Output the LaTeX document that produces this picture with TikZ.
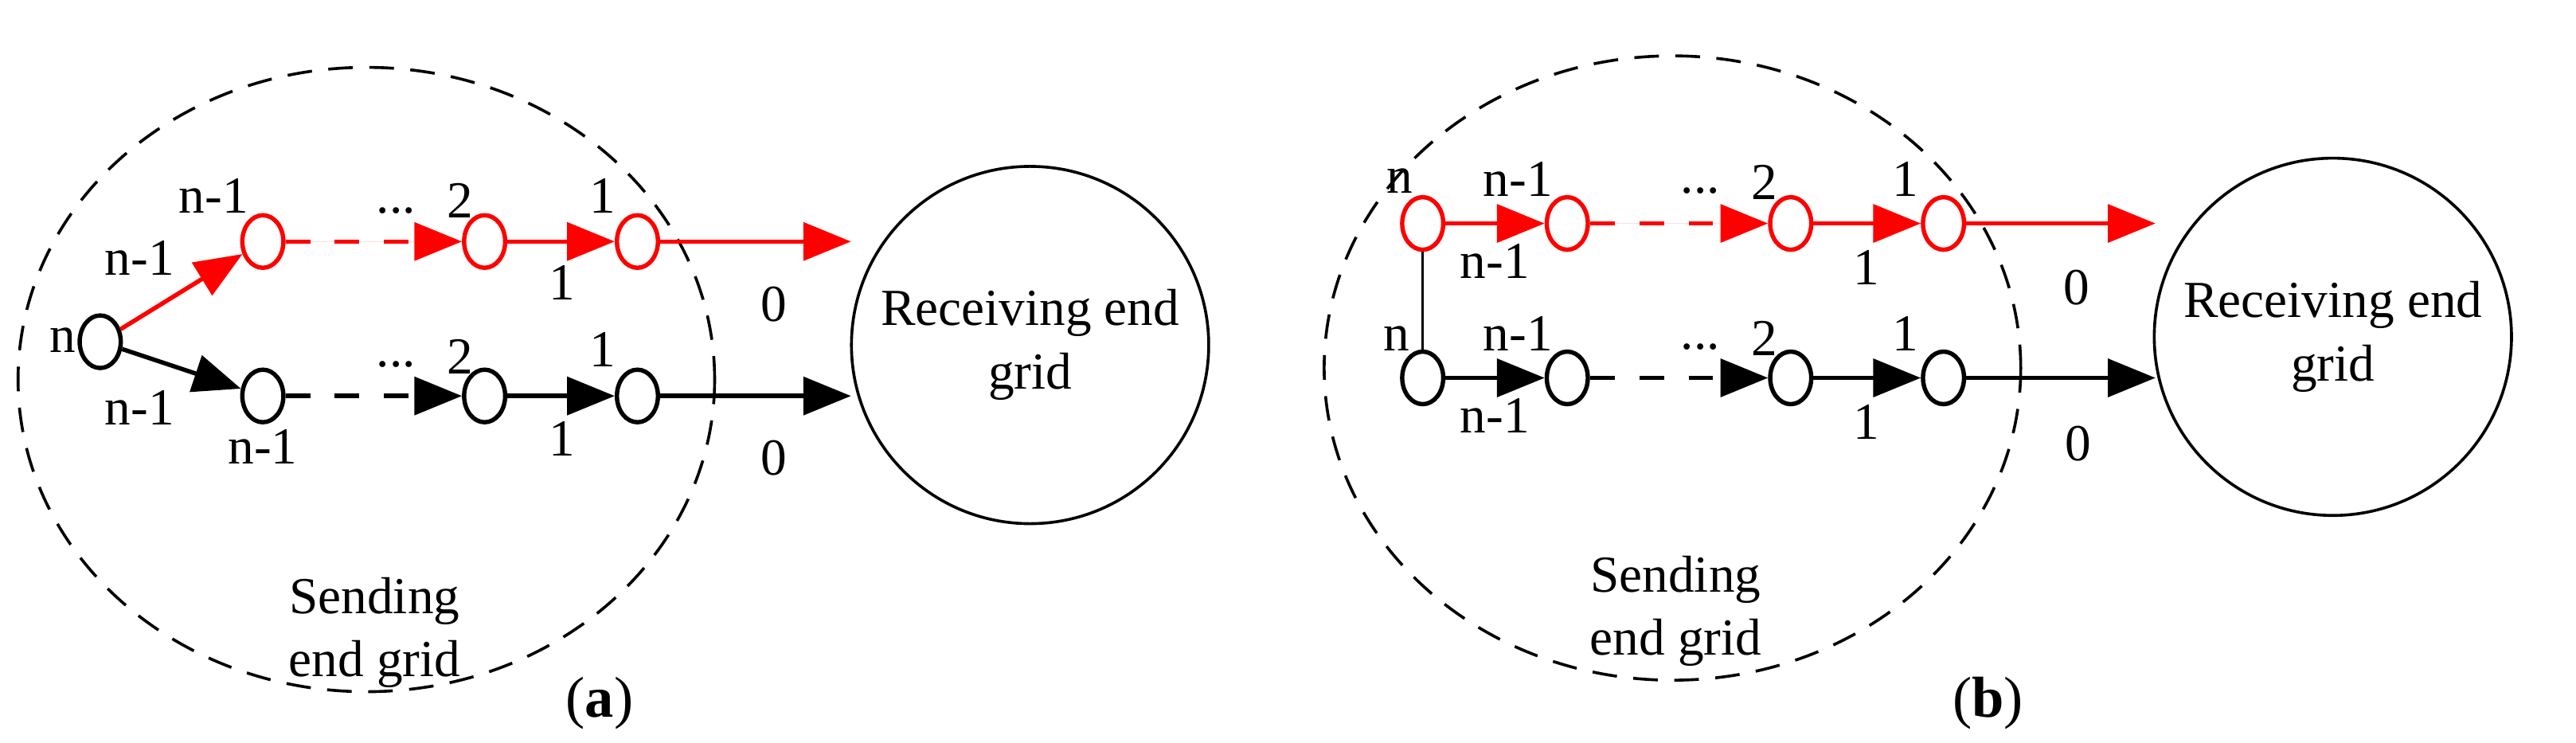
\documentclass[tikz,border=0pt]{standalone}
\usepackage{fontspec}
\setmainfont{Liberation Serif}
\usetikzlibrary{arrows.meta,shapes.geometric}
\begin{document}
\begin{tikzpicture}[x=0.02cm,y=-0.02cm,
  sn/.style={ellipse,draw,line width=1.5pt,minimum width=0.5cm,minimum height=0.64cm,inner sep=0pt},
  rn/.style={sn,draw=red},
  ar/.style={line width=1.5pt,-{Triangle[length=0.58cm,width=0.46cm]}},
  rar/.style={ar,draw=red,fill=red},
  dsh/.style={dash pattern=on 0.3cm off 0.3cm},
  big/.style={circle,draw,line width=1pt,minimum size=4.35cm,align=center,font=\fontsize{18}{22}\selectfont},
  lab/.style={font=\fontsize{18}{20}\selectfont,inner sep=0pt},
  grid/.style={draw,line width=1pt,dash pattern=on 0.3cm off 0.2cm}]
\useasboundingbox (0,0) rectangle (1568,452);
% ---------- (a) ----------
\draw[grid] (223,231) ellipse [x radius=212, y radius=190];
\node[big] (ra) at (627,210) {Receiving end\\grid};
\node[lab,align=center,font=\fontsize{18}{22}\selectfont] (sa) at (228,385) {Sending\\end grid};
\node[sn] (an) at (61,208) {};
\node[rn] (ar1) at (160,147) {};
\node[rn] (ar2) at (295,147) {};
\node[rn] (ar3) at (388,147) {};
\node[sn] (ab1) at (160,241) {};
\node[sn] (ab2) at (295,241) {};
\node[sn] (ab3) at (388,241) {};
\coordinate (aeR) at (518,147);
\coordinate (aeB) at (518,241);
\draw[rar] (an) -- (ar1);
\draw[rar,dsh] (ar1) -- (ar2);
\draw[rar] (ar2) -- (ar3);
\draw[rar] (ar3.east) -- (aeR);
\draw[ar] (an) -- (ab1);
\draw[ar,dsh] (ab1) -- (ab2);
\draw[ar] (ab2) -- (ab3);
\draw[ar] (ab3.east) -- (aeB);
\node[lab] (l1) at (130,119) {n-1};
\node[lab] (l2) at (85,157) {n-1};
\node[lab] (l3) at (241,128) {...};
\node[lab] (l4) at (280,122) {2};
\node[lab] (l5) at (367,119) {1};
\node[lab] (l6) at (342,172) {1};
\node[lab] (l7) at (471,185) {0};
\node[lab] (l8) at (38,207) {n};
\node[lab] (l9) at (241,222) {...};
\node[lab] (l10) at (280,217) {2};
\node[lab] (l11) at (367,213) {1};
\node[lab] (l12) at (85,248) {n-1};
\node[lab] (l13) at (160,272) {n-1};
\node[lab] (l14) at (342,267) {1};
\node[lab] (l15) at (471,279) {0};
\node[font=\fontsize{20}{24}\selectfont] (capa) at (365,428) {(\textbf{a})};
% ---------- (b) ----------
\draw[grid] (1018,224) ellipse [x radius=212, y radius=190];
\node[big] (rb) at (1420,205) {Receiving end\\grid};
\node[lab,align=center,font=\fontsize{18}{22}\selectfont] (sb) at (1020,372) {Sending\\end grid};
\node[rn] (br0) at (866,136) {};
\node[rn] (br1) at (954,136) {};
\node[rn] (br2) at (1090,136) {};
\node[rn] (br3) at (1183,136) {};
\node[sn] (bb0) at (866,230) {};
\node[sn] (bb1) at (954,230) {};
\node[sn] (bb2) at (1090,230) {};
\node[sn] (bb3) at (1183,230) {};
\coordinate (beR) at (1312,136);
\coordinate (beB) at (1312,230);
\draw[line width=0.8pt] (br0) -- (bb0);
\draw[rar] (br0) -- (br1);
\draw[rar,dsh] (br1) -- (br2);
\draw[rar] (br2) -- (br3);
\draw[rar] (br3.east) -- (beR);
\draw[ar] (bb0) -- (bb1);
\draw[ar,dsh] (bb1) -- (bb2);
\draw[ar] (bb2) -- (bb3);
\draw[ar] (bb3.east) -- (beB);
\node[lab] (m1) at (852,110) {n};
\node[lab] (m2) at (924,109) {n-1};
\node[lab] (m3) at (910,159) {n-1};
\node[lab] (m4) at (1035,116) {...};
\node[lab] (m5) at (1074,111) {2};
\node[lab] (m6) at (1160,109) {1};
\node[lab] (m7) at (1136,163) {1};
\node[lab] (m8) at (1264,175) {0};
\node[lab] (m9) at (850,206) {n};
\node[lab] (m10) at (924,203) {n-1};
\node[lab] (m11) at (1035,211) {...};
\node[lab] (m12) at (1074,206) {2};
\node[lab] (m13) at (1160,203) {1};
\node[lab] (m14) at (910,253) {n-1};
\node[lab] (m15) at (1136,257) {1};
\node[lab] (m16) at (1265,270) {0};
\node[font=\fontsize{20}{24}\selectfont] (capb) at (1210,428) {(\textbf{b})};
\end{tikzpicture}
\end{document}
